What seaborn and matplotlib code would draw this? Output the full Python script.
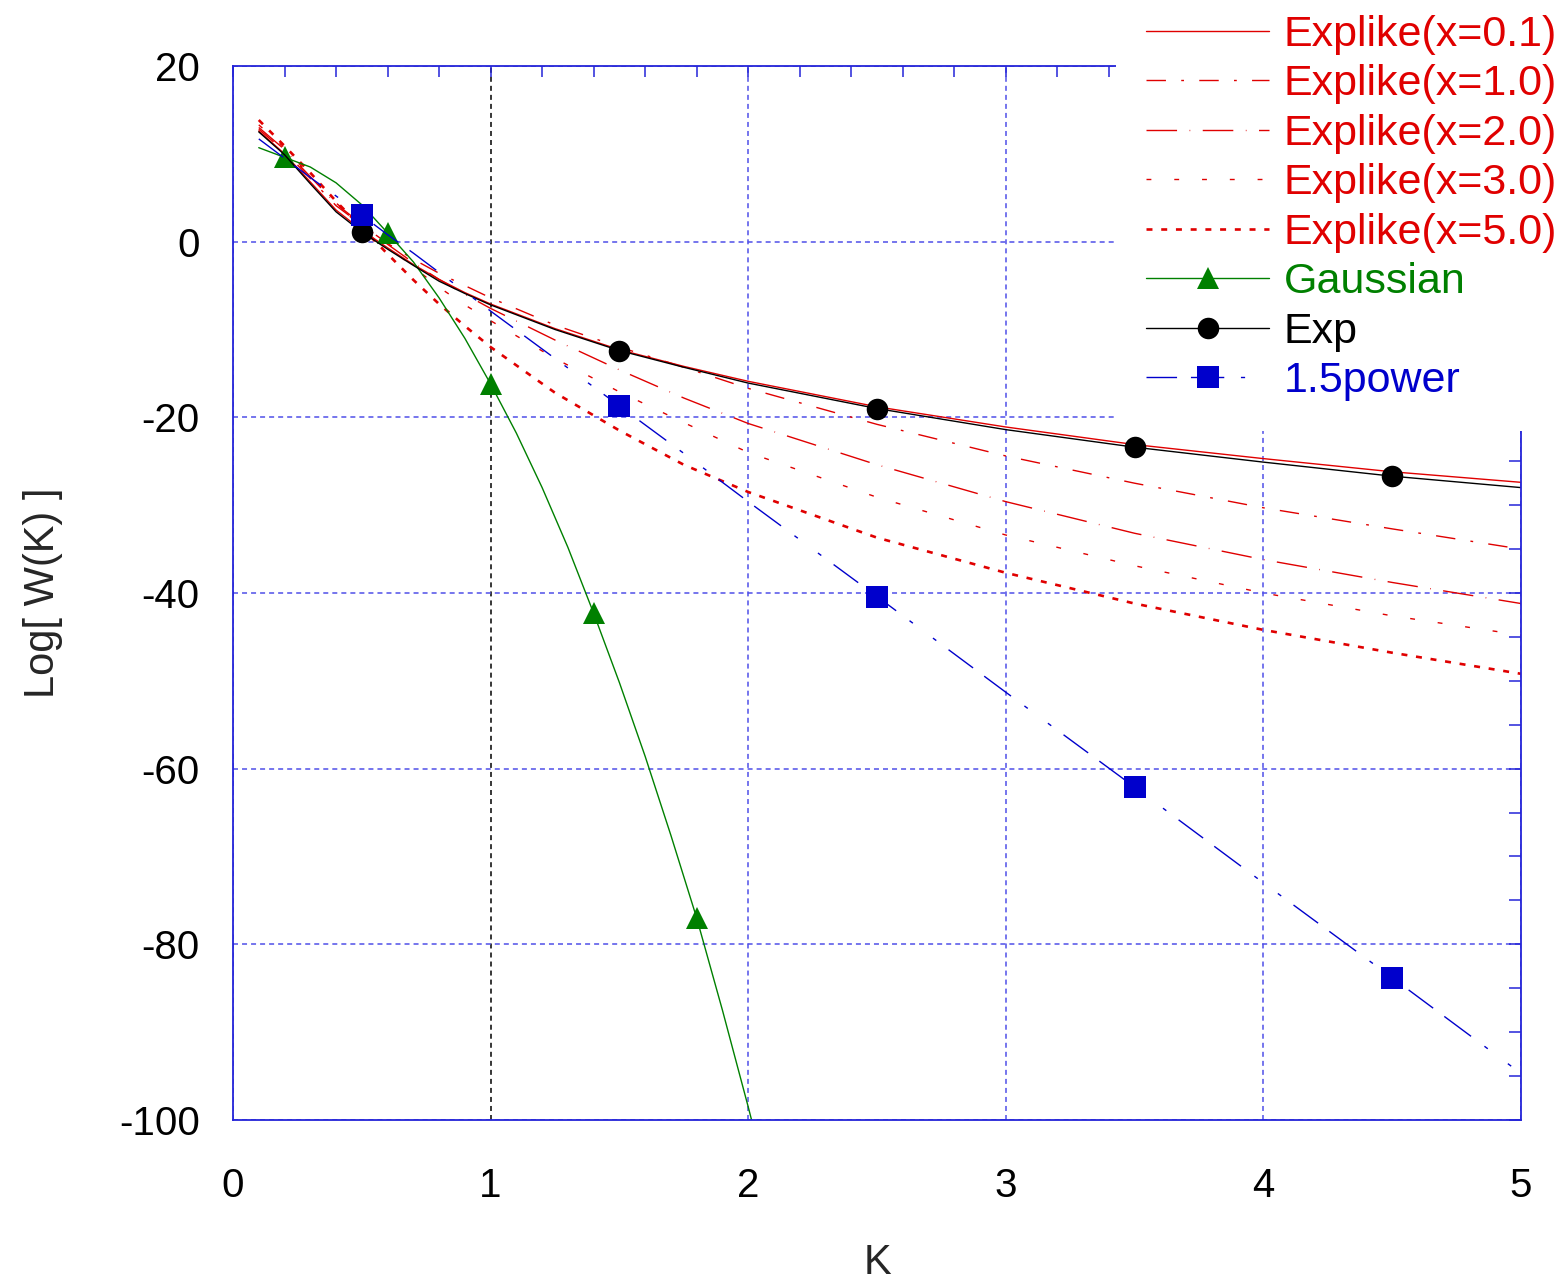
import matplotlib
matplotlib.use("Agg")
import matplotlib.pyplot as plt
import seaborn as sns
import pandas as pd
from matplotlib.ticker import MultipleLocator

sns.set_theme(style="white")
plt.rcParams['font.family'] = ['Liberation Sans', 'DejaVu Sans']
plt.rcParams['lines.scale_dashes'] = False
plt.rcParams['axes.unicode_minus'] = False

# K grid shared by the Explike / Exp / 1.5power curves
k_grid = [0.1, 0.2, 0.3, 0.4, 0.5, 0.6, 0.7, 0.8, 0.9, 1.0,
          1.25, 1.5, 1.75, 2.0, 2.5, 3.0, 3.5, 4.0, 4.5, 5.0]

explike_01 = [12.6, 10.0, 6.8, 3.6, 1.3, -0.7, -2.6, -4.3, -5.8, -7.1,
              -9.9, -12.3, -14.2, -15.9, -18.8, -21.1, -23.1, -24.7, -26.2, -27.4]
explike_10 = [12.8, 10.3, 7.2, 4.1, 1.9, -0.2, -2.0, -3.6, -5.0, -6.4,
              -9.5, -12.0, -14.3, -16.7, -20.8, -24.4, -27.5, -30.3, -32.7, -35.0]
explike_20 = [13.0, 10.5, 7.4, 4.3, 2.0, -0.3, -2.4, -4.3, -6.0, -7.6,
              -11.2, -14.6, -17.8, -20.7, -25.4, -29.6, -33.2, -36.2, -38.8, -41.2]
explike_30 = [13.3, 10.7, 7.5, 4.4, 2.0, -0.5, -2.9, -5.2, -7.2, -9.0,
              -13.3, -17.1, -20.6, -24.0, -29.1, -33.4, -36.9, -40.0, -42.6, -44.8]
explike_50 = [13.85, 10.9, 7.85, 4.6, 1.6, -1.4, -4.35, -7.1, -9.6, -12.0,
              -17.2, -21.5, -25.4, -28.5, -33.7, -37.7, -41.2, -44.2, -46.8, -49.2]
exp_vals = [12.5, 9.9, 6.6, 3.4, 1.1, -0.85, -2.7, -4.5, -5.9, -7.2,
            -10.0, -12.4, -14.3, -16.1, -19.0, -21.4, -23.4, -25.1, -26.7, -28.0]
power15 = [11.7, 9.5, 7.3, 5.2, 3.0, 0.8, -1.3, -3.5, -5.7, -7.9,
           -13.3, -18.7, -24.1, -29.6, -40.4, -51.3, -62.1, -73.0, -83.8, -94.7]

gauss_k = [0.1, 0.2, 0.3, 0.4, 0.5, 0.6, 0.7, 0.8, 0.9, 1.0, 1.1,
           1.2, 1.3, 1.4, 1.5, 1.6, 1.7, 1.8, 1.9, 2.0, 2.1]
gauss_vals = [10.7, 9.6, 8.5, 6.7, 4.2, 1.0, -2.3, -6.4, -11.0, -16.2, -21.8,
              -28.0, -34.8, -42.3, -50.2, -58.6, -67.6, -77.0, -87.5, -98.5, -110.0]

x_ticks = [0, 1, 2, 3, 4, 5]
y_ticks = [20, 0, -20, -40, -60, -80, -100]

RED = '#e00000'
GREEN = '#008000'
BLUE = '#0000cc'
AXBLUE = '#2424d8'

series = [
    ('Explike(x=0.1)', k_grid, explike_01, RED, '-', 1.0, None, None),
    ('Explike(x=1.0)', k_grid, explike_10, RED, (0, (14, 11, 2, 11)), 1.0, None, None),
    ('Explike(x=2.0)', k_grid, explike_20, RED, (0, (22, 9, 0.5, 9)), 1.0, None, None),
    ('Explike(x=3.0)', k_grid, explike_30, RED, (0, (3.5, 16.5)), 1.0, None, None),
    ('Explike(x=5.0)', k_grid, explike_50, RED, (0, (4.3, 6.3)), 1.9, None, None),
    ('Gaussian', gauss_k, gauss_vals, GREEN, '-', 1.0, '^', [1, 5, 9, 13, 17]),
    ('Exp', k_grid, exp_vals, 'black', '-', 1.0, 'o', [4, 11, 14, 16, 18]),
    ('1.5power', k_grid, power15, BLUE, (0, (22, 10, 24, 12, 3, 18, 3, 11)), 1.0, 's',
     [4, 11, 14, 16, 18]),
]

fig = plt.figure(figsize=(15.64, 12.83), dpi=100)
ax = fig.add_axes([0.14898, 0.12705, 0.82353, 0.82151])

handles = []
for name, kx, ky, color, ls, lw, marker, every in series:
    df = pd.DataFrame({'K': kx, 'W': ky})
    kws = dict(color=color, linestyle=ls, linewidth=lw, label=name)
    if marker:
        ms = {'^': 16, 'o': 15.5, 's': 16.5}[marker]
        kws.update(marker=marker, markevery=every, markersize=ms,
                   markerfacecolor=color, markeredgecolor=color, markeredgewidth=0)
    sns.lineplot(data=df, x='K', y='W', ax=ax, estimator=None, sort=False,
                 legend=False, **kws)
    handles.append(ax.lines[-1])

ax.set_xlim(0, 5)
ax.set_ylim(-100, 20)
ax.set_xticks(x_ticks)
ax.set_yticks(y_ticks)
ax.xaxis.set_minor_locator(MultipleLocator(0.2))
ax.yaxis.set_minor_locator(MultipleLocator(5))
ax.tick_params(which='both', direction='in', top=True, right=True,
               color=AXBLUE, width=1.1, labelcolor='black', labelsize=29)
ax.tick_params(axis='x', which='both', length=8, pad=34)
ax.tick_params(axis='y', which='both', length=9, pad=24)

ax.set_axisbelow(True)
ax.grid(True, which='major', color='#5050e8', linestyle=(0, (3.6, 2.9)), linewidth=1.1)
ax.xaxis.get_gridlines()[1].set_color('black')
for sp in ax.spines.values():
    sp.set_color(AXBLUE)
    sp.set_linewidth(1.3)

ax.set_xlabel('K', fontsize=30, labelpad=27)
ax.set_ylabel('Log[ W(K) ]', fontsize=30, labelpad=40)

leg = ax.legend(handles=handles, loc='upper right', bbox_to_anchor=(1.015, 1.012),
                bbox_transform=fig.transFigure, borderaxespad=0, fontsize=31,
                frameon=True, fancybox=False, edgecolor='none', facecolor='white',
                framealpha=1, handlelength=2.85, handletextpad=0.35,
                labelspacing=0.22, borderpad=0.7, numpoints=1)
for txt, ln in zip(leg.get_texts(), handles):
    txt.set_color(ln.get_color())

fig.savefig('out.png', dpi=100)
